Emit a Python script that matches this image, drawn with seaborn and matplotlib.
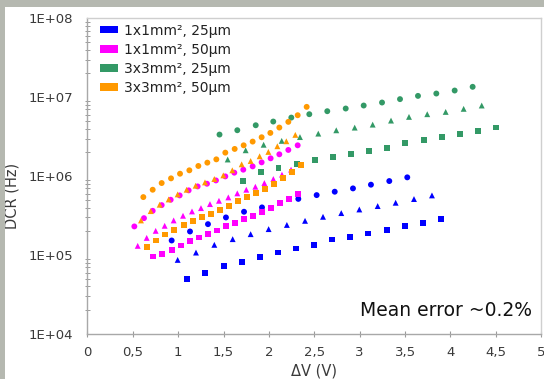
import matplotlib
matplotlib.use("Agg")
import matplotlib.pyplot as plt
from matplotlib.patches import Patch, Rectangle
import seaborn as sns
import pandas as pd

# ---------------- data ----------------
devices = ["1x1mm², 25µm", "1x1mm², 50µm", "3x3mm², 25µm", "3x3mm², 50µm"]
colors = ["#0000ff", "#ff00ff", "#339966", "#ff9900"]

# 1x1mm², 25µm (blue)
b_o_x = [0.929, 1.131, 1.329, 1.527, 1.726, 1.924, 2.123, 2.324, 2.526, 2.725, 2.926, 3.124, 3.326, 3.524]
b_o_y = [1.531e5, 1.991e5, 2.466e5, 2.999e5, 3.540e5, 4.018e5, 4.560e5, 5.152e5, 5.754e5, 6.353e5, 6.998e5, 7.798e5, 8.670e5, 9.661e5]
b_t_x = [0.995, 1.197, 1.399, 1.601, 1.799, 1.997, 2.198, 2.398, 2.596, 2.797, 2.996, 3.198, 3.396, 3.598, 3.796]
b_t_y = [8.690e4, 1.076e5, 1.349e5, 1.592e5, 1.841e5, 2.133e5, 2.410e5, 2.716e5, 3.055e5, 3.404e5, 3.784e5, 4.178e5, 4.603e5, 5.129e5, 5.702e5]
b_s_x = [1.098, 1.300, 1.502, 1.700, 1.902, 2.097, 2.299, 2.497, 2.695, 2.897, 3.095, 3.297, 3.495, 3.697, 3.899]
b_s_y = [4.943e4, 5.957e4, 7.228e4, 8.204e4, 9.397e4, 1.079e5, 1.211e5, 1.349e5, 1.574e5, 1.702e5, 1.879e5, 2.070e5, 2.307e5, 2.564e5, 2.831e5]

# 1x1mm², 50µm (magenta)
m_o_x = [0.518, 0.624, 0.720, 0.819, 0.918, 1.017, 1.116, 1.215, 1.318, 1.417, 1.520, 1.619, 1.718, 1.821, 1.920, 2.019, 2.115, 2.214, 2.317]
m_o_y = [2.307e5, 2.938e5, 3.639e5, 4.295e5, 5.023e5, 5.702e5, 6.607e5, 7.413e5, 8.017e5, 8.831e5, 9.931e5, 1.107e6, 1.208e6, 1.330e6, 1.496e6, 1.683e6, 1.892e6, 2.148e6, 2.460e6]
m_t_x = [0.555, 0.654, 0.753, 0.852, 0.951, 1.054, 1.153, 1.252, 1.351, 1.450, 1.553, 1.652, 1.751, 1.851, 1.950, 2.049, 2.144, 2.244]
m_t_y = [1.309e5, 1.652e5, 2.028e5, 2.350e5, 2.748e5, 3.148e5, 3.573e5, 3.936e5, 4.426e5, 4.875e5, 5.383e5, 6.053e5, 6.730e5, 7.345e5, 8.185e5, 9.204e5, 1.045e6, 1.208e6]
m_s_x = [0.727, 0.826, 0.929, 1.028, 1.127, 1.226, 1.326, 1.425, 1.524, 1.623, 1.722, 1.825, 1.924, 2.019, 2.119, 2.218, 2.317]
m_s_y = [9.594e4, 1.026e5, 1.164e5, 1.321e5, 1.500e5, 1.671e5, 1.841e5, 2.051e5, 2.307e5, 2.564e5, 2.831e5, 3.119e5, 3.508e5, 3.936e5, 4.519e5, 5.082e5, 5.875e5]

# 3x3mm², 25µm (green)
g_o_x = [1.456, 1.652, 1.855, 2.048, 2.247, 2.445, 2.643, 2.846, 3.044, 3.246, 3.444, 3.642, 3.844, 4.046, 4.244]
g_o_y = [3.365e6, 3.819e6, 4.416e6, 4.920e6, 5.521e6, 6.095e6, 6.653e6, 7.194e6, 7.852e6, 8.570e6, 9.462e6, 1.040e7, 1.114e7, 1.216e7, 1.355e7]
g_t_x = [1.546, 1.744, 1.942, 2.141, 2.342, 2.544, 2.742, 2.945, 3.143, 3.345, 3.543, 3.744, 3.947, 4.145, 4.344]
g_t_y = [1.626e6, 2.128e6, 2.500e6, 2.799e6, 3.126e6, 3.459e6, 3.811e6, 4.121e6, 4.498e6, 5.058e6, 5.636e6, 6.095e6, 6.516e6, 7.129e6, 7.852e6]
g_s_x = [1.711, 1.909, 2.106, 2.306, 2.508, 2.706, 2.908, 3.106, 3.304, 3.503, 3.705, 3.903, 4.105, 4.303, 4.504]
g_s_y = [8.590e5, 1.122e6, 1.282e6, 1.419e6, 1.589e6, 1.750e6, 1.892e6, 2.109e6, 2.280e6, 2.612e6, 2.877e6, 3.112e6, 3.428e6, 3.741e6, 4.130e6]

# 3x3mm², 50µm (orange)
o_o_x = [0.617, 0.720, 0.819, 0.922, 1.021, 1.124, 1.223, 1.322, 1.421, 1.520, 1.623, 1.722, 1.821, 1.920, 2.016, 2.115, 2.214, 2.317, 2.416]
o_o_y = [5.43e5, 6.73e5, 8.18e5, 9.38e5, 1.074e6, 1.186e6, 1.346e6, 1.483e6, 1.633e6, 1.986e6, 2.213e6, 2.460e6, 2.742e6, 3.112e6, 3.532e6, 4.130e6, 4.875e6, 5.916e6, 7.551e6]
o_t_x = [0.591, 0.698, 0.797, 0.896, 0.995, 1.094, 1.193, 1.296, 1.399, 1.498, 1.597, 1.700, 1.799, 1.898, 1.994, 2.093, 2.192, 2.291]
o_t_y = [2.748e5, 3.606e5, 4.345e5, 5.070e5, 5.875e5, 6.730e5, 7.568e5, 8.337e5, 9.204e5, 1.023e6, 1.186e6, 1.413e6, 1.556e6, 1.786e6, 2.028e6, 2.393e6, 2.767e6, 3.334e6]
o_s_x = [0.661, 0.760, 0.859, 0.958, 1.061, 1.160, 1.263, 1.362, 1.461, 1.560, 1.663, 1.762, 1.861, 1.957, 2.056, 2.155, 2.254, 2.354]
o_s_y = [1.259e5, 1.531e5, 1.824e5, 2.089e5, 2.399e5, 2.692e5, 2.999e5, 3.334e5, 3.750e5, 4.169e5, 4.831e5, 5.383e5, 6.109e5, 6.934e5, 8.017e5, 9.462e5, 1.127e6, 1.384e6]

x_ticks = [0, 0.5, 1, 1.5, 2, 2.5, 3, 3.5, 4, 4.5, 5]
x_tick_labels = ["0", "0,5", "1", "1,5", "2", "2,5", "3", "3,5", "4", "4,5", "5"]
y_ticks = [1e4, 1e5, 1e6, 1e7, 1e8]
y_tick_labels = ["1E+04", "1E+05", "1E+06", "1E+07", "1E+08"]
annotation = "Mean error ~0.2%"

# ---------------- build long table ----------------
series = [
    (devices[0], "o", b_o_x, b_o_y), (devices[0], "^", b_t_x, b_t_y), (devices[0], "s", b_s_x, b_s_y),
    (devices[1], "o", m_o_x, m_o_y), (devices[1], "^", m_t_x, m_t_y), (devices[1], "s", m_s_x, m_s_y),
    (devices[2], "o", g_o_x, g_o_y), (devices[2], "^", g_t_x, g_t_y), (devices[2], "s", g_s_x, g_s_y),
    (devices[3], "o", o_o_x, o_o_y), (devices[3], "^", o_t_x, o_t_y), (devices[3], "s", o_s_x, o_s_y),
]
rows = []
for dev, mk, xs, ys in series:
    for xv, yv in zip(xs, ys):
        rows.append({"dV": xv, "DCR": yv, "device": dev, "marker": mk})
df = pd.DataFrame(rows)

# ---------------- plot ----------------
sns.set_style("white")
plt.rcParams["font.family"] = ["DejaVu Sans"]

fig = plt.figure(figsize=(5.44, 3.79), dpi=100)
fig.patch.set_facecolor("white")
ax = fig.add_axes([0.1605, 0.1187, 0.995 - 0.1605, 0.9517 - 0.1187])

sns.scatterplot(data=df, x="dV", y="DCR", hue="device", style="marker",
                hue_order=devices, palette=colors,
                markers={"o": "o", "^": "^", "s": "s"}, style_order=["o", "^", "s"],
                s=18, linewidth=0, ax=ax, legend=False, zorder=3)

ax.set_yscale("log")
ax.set_xlim(0, 5)
ax.set_ylim(1e4, 1e8)
ax.set_xticks(x_ticks)
ax.set_xticklabels(x_tick_labels)
ax.set_yticks(y_ticks)
ax.set_yticklabels(y_tick_labels)
ax.xaxis.set_minor_locator(matplotlib.ticker.NullLocator())
ax.yaxis.set_minor_locator(matplotlib.ticker.LogLocator(base=10, subs=range(2, 10), numticks=20))
ax.yaxis.set_minor_formatter(matplotlib.ticker.NullFormatter())

tick_col = "#9a9a9a"
ax.tick_params(axis="y", which="major", direction="inout", length=6.5, width=0.8,
               color=tick_col, pad=7, labelsize=9.5, labelcolor="#3a3a3a")
ax.tick_params(axis="y", which="minor", direction="inout", length=3.6, width=0.7,
               color=tick_col, left=True)
ax.tick_params(axis="x", which="major", direction="inout", length=5, width=0.8,
               color=tick_col, pad=6, labelsize=9.5, labelcolor="#3a3a3a", bottom=True)

for side, sp in ax.spines.items():
    sp.set_visible(True)
    sp.set_linewidth(1.0)
    sp.set_color("#a8a8a8" if side in ("left", "bottom") else "#cfcfcf")

ax.set_xlabel("ΔV (V)", fontsize=10.5, color="#3a3a3a")
ax.set_ylabel("DCR (Hz)", fontsize=10.5, color="#3a3a3a")
ax.xaxis.set_label_coords(0.5, -0.092)
ax.yaxis.set_label_coords(-0.150, 0.437)

handles = [Patch(facecolor=c, edgecolor="none") for c in colors]
ax.legend(handles, devices, loc="upper left", bbox_to_anchor=(0.028, 0.983),
          frameon=False, fontsize=10, handlelength=1.3, handleheight=0.45,
          handletextpad=0.4, labelspacing=0.37, borderpad=0, borderaxespad=0,
          labelcolor="#222222")

ax.text(0.979, 0.073, annotation, transform=ax.transAxes, ha="right", va="center",
        fontsize=13.5, color="#111111")

# grey frame of the original slide
frame_col = "#b5b8b0"
fig.patches.append(Rectangle((0, 0), 5 / 544, 1, transform=fig.transFigure,
                             facecolor=frame_col, edgecolor="none", zorder=0))
fig.patches.append(Rectangle((0, 1 - 7 / 379), 1, 7 / 379, transform=fig.transFigure,
                             facecolor=frame_col, edgecolor="none", zorder=0))

fig.savefig("out.png", dpi=100)
